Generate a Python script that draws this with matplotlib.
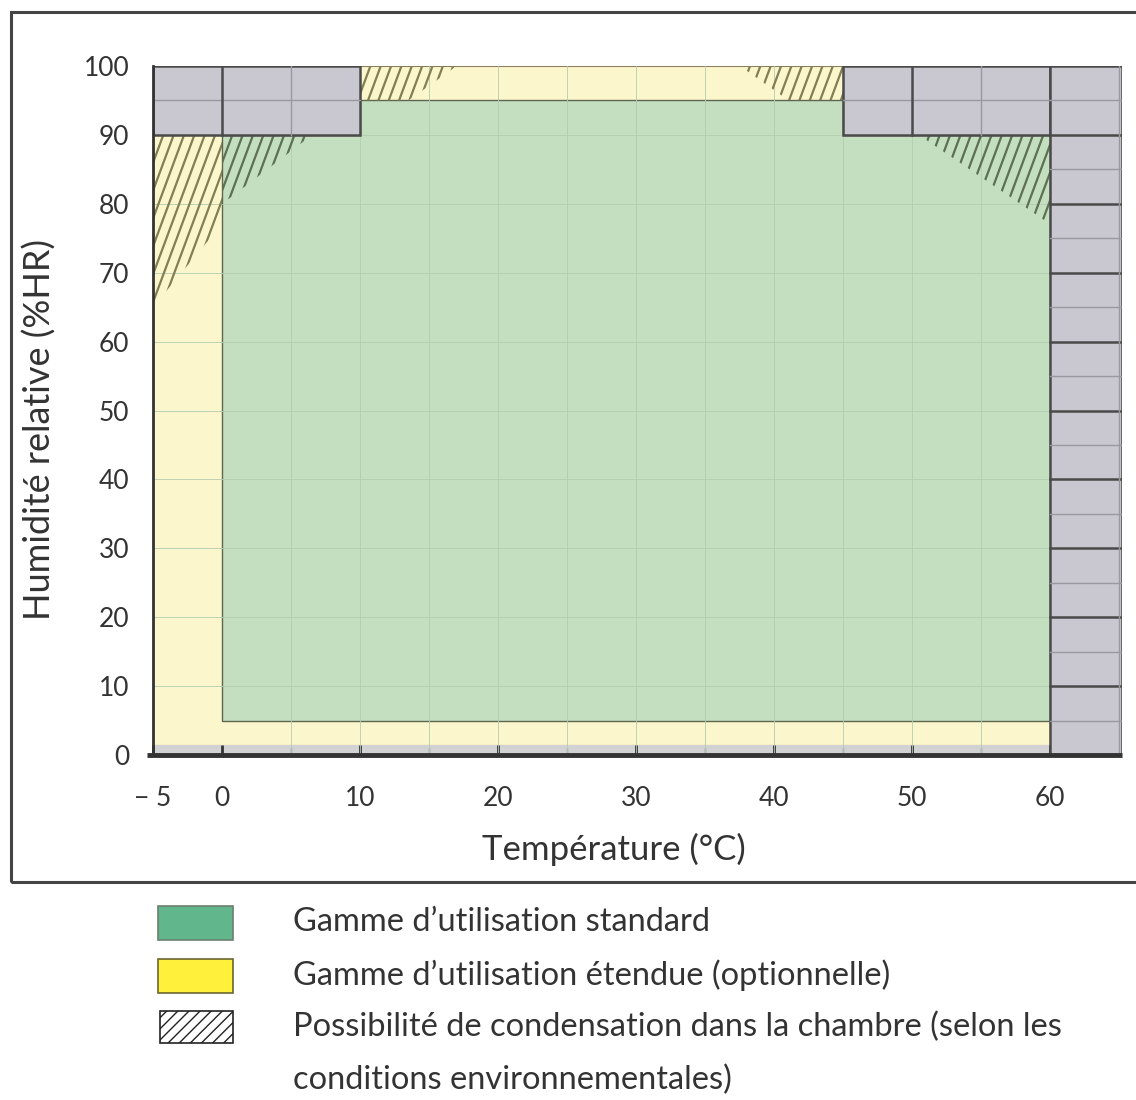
#!/usr/bin/env python3
''' Plage de fonctionnement temperature / humidite
'''

import numpy as np
import matplotlib
matplotlib.use('Agg')
from matplotlib import pyplot
from matplotlib.patches import Polygon, Rectangle

#
# data
#

# axis ranges and ticks
x_range = [-5, 65.2]
y_range = [0, 100]
x_ticks = [-5, 0, 10, 20, 30, 40, 50, 60]
x_tick_labels = ['\u2212 5', '0', '10', '20', '30', '40', '50', '60']
y_ticks = [0, 10, 20, 30, 40, 50, 60, 70, 80, 90, 100]

# standard range (green)
standard_x = [0, 60, 60, 45, 45, 10, 10, 0]
standard_y = [5, 5, 90, 90, 95, 95, 90, 90]

# extended range (yellow)
extended_x = [-5, 60, 60, -5]
extended_y = [1.5, 1.5, 100, 100]

# out of range zones (grey): x0, x1, y0, y1
grey_zones = [
    (-5, 10, 90, 100),
    (45, 60, 90, 100),
    (60, 65.2, 0, 100),
]
grey_strip = (-5, 60, 0, 1.5)

# condensation zones (hatched)
condensation = [
    ([-5, -5, 0, 0], [65, 90, 90, 77]),
    ([0, 0, 6.5], [80, 90, 90]),
    ([50.5, 60, 60], [90, 90, 77]),
    ([10, 10, 17, 13.5], [95, 100, 100, 95]),
    ([37.5, 45, 45, 41], [100, 100, 95, 95]),
]

# legend entries
legend_labels = [
    'Gamme d\u2019utilisation standard',
    'Gamme d\u2019utilisation \u00e9tendue (optionnelle)',
    'Possibilit\u00e9 de condensation dans la chambre (selon les',
    'conditions environnementales)',
]

#
# functions
#

def hatch_zone(ax, xs, ys, color, spacing=0.75, slope=5.4):
    ''' draw steep hatch lines clipped to a polygon '''
    clip = Polygon(np.column_stack([xs, ys]), closed=True,
        facecolor='none', edgecolor='none', transform=ax.transData)
    ax.add_patch(clip)
    y0, y1 = min(ys), max(ys)
    x0, x1 = min(xs), max(xs)
    h = (y1 - y0) / slope
    for c in np.arange(x0 - h, x1 + spacing, spacing):
        ln, = ax.plot([c, c + h], [y0, y1], color=color, lw=1.6, zorder=4)
        ln.set_clip_path(clip)


#
# main
#

if __name__ == '__main__':

    pyplot.rcParams['font.family'] = ['Lato', 'DejaVu Sans']

    c_green = '#c3dfc0'
    c_yellow = '#fbf6cc'
    c_grey = '#c9c8d0'
    c_line = '#4a4a4a'

    fig = pyplot.figure(figsize=(11.36, 11), dpi=100)
    ax = fig.add_axes([0.1347, 0.3136, 0.8530, 0.6264])
    ax.set_xlim(x_range)
    ax.set_ylim(y_range)

    # filled ranges
    ax.add_patch(Polygon(np.column_stack([extended_x, extended_y]),
        closed=True, facecolor=c_yellow, edgecolor='#8a8060', lw=0.8, zorder=1))
    ax.add_patch(Rectangle((grey_strip[0], grey_strip[2]),
        grey_strip[1] - grey_strip[0], grey_strip[3] - grey_strip[2],
        facecolor='#d2d1d4', edgecolor='none', zorder=1))
    ax.add_patch(Polygon(np.column_stack([standard_x, standard_y]),
        closed=True, facecolor=c_green, edgecolor='#5e6650', lw=1.0, zorder=2))

    # faint grid in the coloured area
    for gx in range(5, 60, 5):
        ax.axvline(gx, color='#b4ccb0', lw=0.6, zorder=2.5)
    for gy in range(10, 100, 10):
        ax.axhline(gy, color='#b4ccb0', lw=0.6, zorder=2.5)

    # hatched condensation zones
    for i, (hx, hy) in enumerate(condensation):
        col = '#5d7052' if i in (1, 2) else '#837f55'
        hatch_zone(ax, hx, hy, col)

    # grey zones with their own grid
    for gx0, gx1, gy0, gy1 in grey_zones:
        ax.add_patch(Rectangle((gx0, gy0), gx1 - gx0, gy1 - gy0,
            facecolor=c_grey, edgecolor=c_line, lw=1.8, zorder=5))
        for gy in np.arange(gy0 + 5, gy1, 5):
            dark = (gy % 10 == 0)
            ax.plot([gx0, gx1], [gy, gy], color=c_line if dark else '#9a99a2',
                lw=1.8 if dark else 1.0, zorder=6)
        for gx in range(-5, 66, 5):
            if gx0 < gx < gx1:
                dark = (gx % 10 == 0)
                ax.plot([gx, gx], [gy0, gy1], color=c_line if dark else '#9a99a2',
                    lw=1.8 if dark else 1.0, zorder=6)

    # axes
    for s in ['top', 'right']:
        ax.spines[s].set_visible(False)
    ax.spines['left'].set_linewidth(2)
    ax.spines['left'].set_color('#333333')
    ax.spines['left'].set_zorder(7)
    ax.plot([-5.4, 65.2], [0, 0], color='#333333', lw=3.5, zorder=8,
        clip_on=False, solid_capstyle='butt')
    ax.spines['bottom'].set_visible(False)

    ax.set_xticks(x_ticks)
    ax.set_xticklabels(x_tick_labels)
    ax.set_xticks(range(5, 60, 10), minor=True)
    ax.tick_params(axis='x', which='major', direction='in', length=7,
        width=2, color='#333333', pad=22, labelsize=19, labelcolor='#333333')
    ax.tick_params(axis='x', which='minor', direction='in', length=5,
        width=1, color='#888888')
    ax.set_yticks(y_ticks)
    ax.tick_params(axis='y', length=0, pad=17, labelsize=19,
        labelcolor='#333333')

    ax.set_xlabel('Temp\u00e9rature (\u00b0C)', fontsize=25, color='#333333')
    ax.xaxis.set_label_coords(0.476, -0.113)
    ax.set_ylabel('Humidit\u00e9 relative (%HR)', fontsize=26, color='#333333')
    ax.yaxis.set_label_coords(-0.1, 0.472)

    # frame around the chart
    fig.add_artist(Rectangle((0.0097, 0.198), 1.0, 0.791,
        transform=fig.transFigure, facecolor='none', edgecolor='#444444',
        lw=2.2))

    # legend
    box_x, box_w, box_h = 0.139, 0.066, 0.031
    fig.add_artist(Rectangle((box_x, 0.1455), box_w, box_h,
        transform=fig.transFigure, facecolor='#62b68c', edgecolor='#6a7f70',
        lw=1.2))
    fig.add_artist(Rectangle((box_x, 0.0973), box_w, box_h,
        transform=fig.transFigure, facecolor='#fff03c', edgecolor='#6b6530',
        lw=1.2))
    fig.add_artist(Rectangle((box_x + 0.002, 0.0518), box_w - 0.002, 0.029,
        transform=fig.transFigure, facecolor='white', edgecolor='#222222',
        lw=1.2, hatch='///'))

    text_y = [0.1618, 0.1136, 0.0664, 0.0182]
    for ty, lab in zip(text_y, legend_labels):
        fig.text(0.258, ty, lab, fontsize=23.5, color='#333333', va='center')

    fig.savefig('out.png', dpi=100)
